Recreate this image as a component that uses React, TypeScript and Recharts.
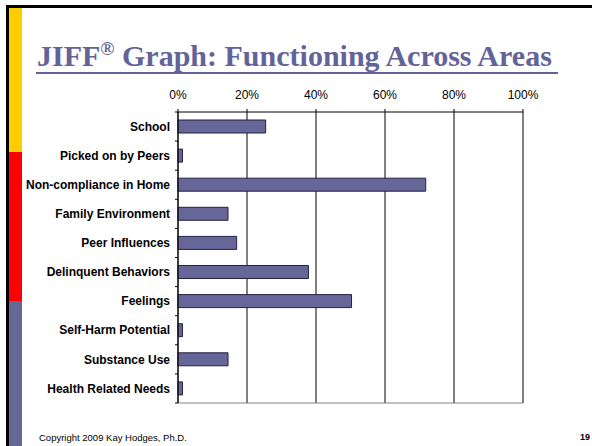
import React from 'react';
import { BarChart, Bar, XAxis, YAxis, CartesianGrid } from 'recharts';

const categories = [
    'School',
    'Picked on by Peers',
    'Non-compliance in Home',
    'Family Environment',
    'Peer Influences',
    'Delinquent Behaviors',
    'Feelings',
    'Self-Harm Potential',
    'Substance Use',
    'Health Related Needs',
];
const percentValues = [25.4, 1.3, 71.8, 14.5, 17, 37.8, 50.3, 1.3, 14.5, 1.3];
const percentTicks = [0, 20, 40, 60, 80, 100];

const chartData = categories.map((name, i) => ({ name, value: percentValues[i] }));

const TICK_SIZE = 3;
const TICK_MARGIN = 6;

// Excel-style category ticks: marks sit on the band edges, labels in the middle
const CategoryTick = (props: any) => {
    const { x, y, payload, index, visibleTicksCount } = props;
    const half = payload && payload.offset ? payload.offset : 14.55;
    const lineX1 = x + TICK_MARGIN;
    const lineX2 = lineX1 + TICK_SIZE;
    const isLast = index === (visibleTicksCount ?? categories.length) - 1;
    return (
        <g>
            <line x1={lineX1} x2={lineX2} y1={y - half} y2={y - half} stroke="#000" />
            {isLast && <line x1={lineX1} x2={lineX2} y1={y + half} y2={y + half} stroke="#000" />}
            <text
                x={x + 1}
                y={y}
                dy="0.35em"
                textAnchor="end"
                fontFamily="Arial, 'Liberation Sans', sans-serif"
                fontSize={12}
                fontWeight="bold"
                fill="#000"
            >
                {payload.value}
            </text>
        </g>
    );
};

export default function App() {
    return (
        <div style={{ position: 'absolute', left: 0, top: 0, width: 592, height: 446, background: '#fff', overflow: 'hidden' }}>
            {/* slide frame */}
            <div style={{ position: 'absolute', left: 6, top: 5, width: 586, height: 3, background: '#000' }} />
            <div style={{ position: 'absolute', left: 6, top: 5, width: 3, height: 441, background: '#000' }} />
            <div style={{ position: 'absolute', left: 9, top: 8, width: 13, height: 144, background: '#ffcc00' }} />
            <div style={{ position: 'absolute', left: 9, top: 152, width: 13, height: 149, background: '#ff0000' }} />
            <div style={{ position: 'absolute', left: 9, top: 301, width: 13, height: 145, background: '#666699' }} />

            <div
                style={{
                    position: 'absolute',
                    left: 37,
                    top: 39,
                    fontFamily: "'Times New Roman', 'Liberation Serif', serif",
                    fontWeight: 'bold',
                    fontSize: 30,
                    color: '#636399',
                    whiteSpace: 'nowrap',
                    lineHeight: '34px',
                }}
            >
                JIFF<sup style={{ fontSize: 19, lineHeight: 0 }}>®</sup> Graph: Functioning Across Areas
            </div>
            <div style={{ position: 'absolute', left: 36, top: 72, width: 522, height: 2, background: '#636399' }} />

            <div style={{ position: 'absolute', left: 0, top: 80 }}>
                <BarChart
                    width={592}
                    height={330}
                    data={chartData}
                    layout="vertical"
                    margin={{ top: 0, right: 69, bottom: 7, left: 0 }}
                    barSize={13}
                >
                    <CartesianGrid horizontal={false} vertical={true} stroke="#000" strokeOpacity={1} />
                    <CartesianGrid
                        vertical={false}
                        horizontal={true}
                        stroke="#808080"
                        horizontalCoordinatesGenerator={({ offset }: any) => [offset.top + offset.height]}
                    />
                    <XAxis
                        type="number"
                        orientation="top"
                        domain={[0, 100]}
                        ticks={percentTicks}
                        tickFormatter={(v: number) => `${v}%`}
                        height={32}
                        tickSize={3}
                        tickMargin={10}
                        axisLine={{ stroke: '#000' }}
                        tickLine={{ stroke: '#000' }}
                        tick={{ fill: '#000', fontSize: 12, fontFamily: "Arial, 'Liberation Sans', sans-serif" }}
                        interval={0}
                    />
                    <YAxis
                        type="category"
                        dataKey="name"
                        width={178}
                        tickSize={TICK_SIZE}
                        tickMargin={TICK_MARGIN}
                        tickLine={false}
                        axisLine={{ stroke: '#000' }}
                        tick={<CategoryTick />}
                        interval={0}
                    />
                    <Bar dataKey="value" fill="#666699" stroke="#222244" strokeWidth={1} isAnimationActive={false} />
                </BarChart>
            </div>

            <div
                style={{
                    position: 'absolute',
                    left: 39,
                    top: 432,
                    fontFamily: "Arial, 'Liberation Sans', sans-serif",
                    fontSize: 9.5,
                    color: '#000',
                    whiteSpace: 'nowrap',
                }}
            >
                Copyright 2009 Kay Hodges, Ph.D.
            </div>
            <div
                style={{
                    position: 'absolute',
                    right: 2,
                    top: 432,
                    fontFamily: "Arial, 'Liberation Sans', sans-serif",
                    fontSize: 9,
                    fontWeight: 'bold',
                    color: '#000',
                }}
            >
                19
            </div>
        </div>
    );
}
